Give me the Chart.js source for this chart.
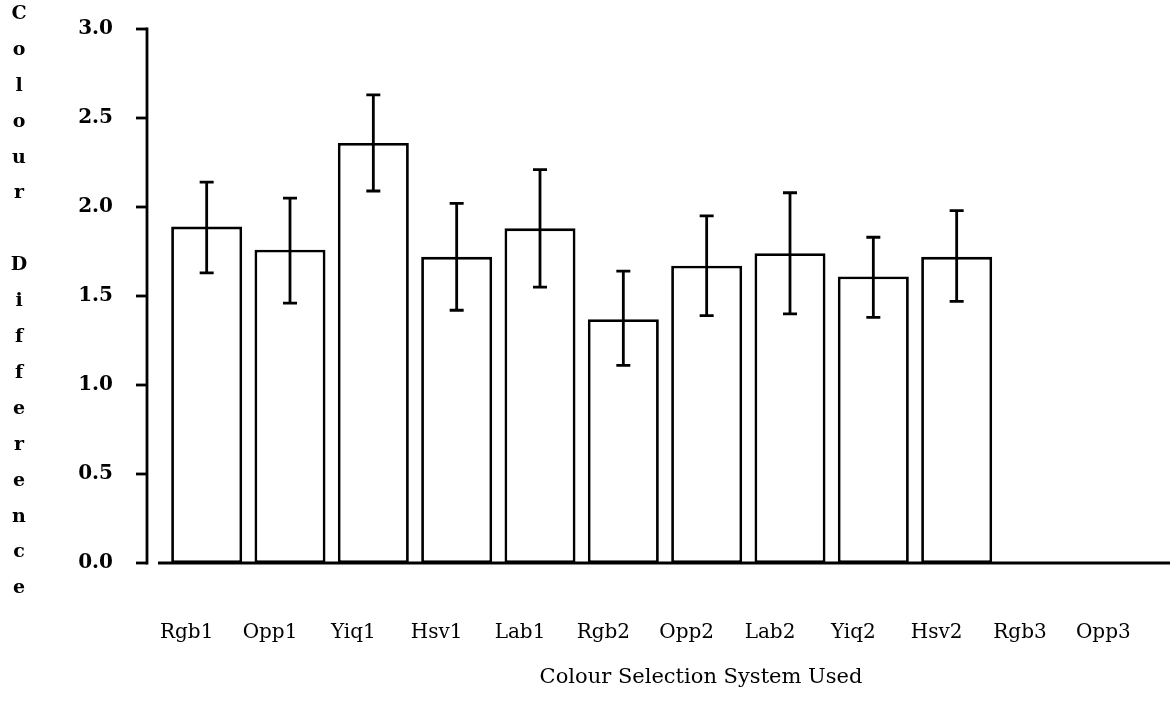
<!DOCTYPE html>
<html>
<head>
<meta charset="utf-8">
<title>Colour Difference by Colour Selection System</title>
<script src="https://cdn.jsdelivr.net/npm/chart.js@4.4.1/dist/chart.umd.min.js"></script>
<style>
  html, body { margin: 0; padding: 0; background: #ffffff; }
  #wrap { width: 1174px; height: 712px; }
</style>
</head>
<body>
<div id="wrap"><canvas id="chart" width="1174" height="712"></canvas></div>
<script>
// Colour selection systems along the x axis
const categories = ['Rgb1', 'Opp1', 'Yiq1', 'Hsv1', 'Lab1', 'Rgb2', 'Opp2', 'Lab2', 'Yiq2', 'Hsv2', 'Rgb3', 'Opp3'];
// Mean colour difference per system (Rgb3 and Opp3 have no data)
const meanDiff = [1.89, 1.76, 2.36, 1.72, 1.88, 1.37, 1.67, 1.74, 1.61, 1.72, null, null];
// Error bar ends
const errLow  = [1.63, 1.46, 2.09, 1.42, 1.55, 1.11, 1.39, 1.40, 1.38, 1.47, null, null];
const errHigh = [2.14, 2.05, 2.63, 2.02, 2.21, 1.64, 1.95, 2.08, 1.83, 1.98, null, null];
// Y axis tick values
const yTicks = [0.0, 0.5, 1.0, 1.5, 2.0, 2.5, 3.0];
const yTitle = 'Colour Difference';
const xTitle = 'Colour Selection System Used';

const INK = '#000000';
const LINE_W = 2.8;
const AXIS_GAP = 18;   // space between the y axis line and the first category

// Y axis line, tick marks and x baseline
const axesPlugin = {
  id: 'axes',
  afterDatasetsDraw(chart) {
    const { ctx, chartArea, scales: { y } } = chart;
    const ax = chartArea.left - AXIS_GAP;
    const y0 = y.getPixelForValue(yTicks[0]);
    const yTop = y.getPixelForValue(yTicks[yTicks.length - 1]);
    ctx.save();
    ctx.strokeStyle = INK;
    ctx.lineWidth = LINE_W;
    ctx.lineCap = 'butt';
    ctx.beginPath();
    ctx.moveTo(ax, yTop - LINE_W / 2);
    ctx.lineTo(ax, y0 + LINE_W / 2);
    ctx.stroke();
    yTicks.forEach(v => {
      const py = y.getPixelForValue(v);
      ctx.beginPath();
      ctx.moveTo(ax - 11, py);
      ctx.lineTo(ax, py);
      ctx.stroke();
    });
    ctx.beginPath();
    ctx.moveTo(chartArea.left - 7, y0);
    ctx.lineTo(chartArea.right + 5, y0);
    ctx.stroke();
    ctx.restore();
  }
};

// Error bars with caps
const errorBarPlugin = {
  id: 'errorBars',
  afterDatasetsDraw(chart) {
    const { ctx, scales: { x, y } } = chart;
    ctx.save();
    ctx.strokeStyle = INK;
    ctx.lineWidth = LINE_W;
    categories.forEach((c, i) => {
      if (errLow[i] == null || errHigh[i] == null) return;
      const px = x.getPixelForValue(i);
      const lo = y.getPixelForValue(errLow[i]);
      const hi = y.getPixelForValue(errHigh[i]);
      ctx.beginPath();
      ctx.moveTo(px, hi);
      ctx.lineTo(px, lo);
      ctx.moveTo(px - 7, hi);
      ctx.lineTo(px + 7, hi);
      ctx.moveTo(px - 7, lo);
      ctx.lineTo(px + 7, lo);
      ctx.stroke();
    });
    ctx.restore();
  }
};

// Stacked vertical y title and centred x title
const titlesPlugin = {
  id: 'titles',
  afterDraw(chart) {
    const { ctx, chartArea } = chart;
    ctx.save();
    ctx.fillStyle = INK;
    ctx.textAlign = 'center';
    ctx.textBaseline = 'middle';
    ctx.font = 'bold 19px "DejaVu Serif"';
    const letters = yTitle.split('');
    const step = 35.9;
    letters.forEach((ch, k) => {
      if (ch.trim() === '') return;
      ctx.fillText(ch, 19, 14 + k * step);
    });
    ctx.font = '21px "DejaVu Serif"';
    const cx = chartArea.left + (chartArea.right - chartArea.left) * 0.536;
    ctx.fillText(xTitle, cx, 678);
    ctx.restore();
  }
};

new Chart(document.getElementById('chart'), {
  type: 'bar',
  data: {
    labels: categories,
    datasets: [{
      data: meanDiff,
      backgroundColor: '#ffffff',
      borderColor: INK,
      borderWidth: LINE_W,
      borderSkipped: false,
      barPercentage: 0.852,
      categoryPercentage: 1.0
    }]
  },
  options: {
    responsive: false,
    animation: false,
    events: [],
    layout: { padding: { left: 0, right: 9, top: 29, bottom: 0 } },
    plugins: {
      legend: { display: false },
      tooltip: { enabled: false },
      title: { display: false }
    },
    scales: {
      x: {
        type: 'category',
        offset: true,
        grid: { display: false },
        border: { display: false },
        afterFit(scale) {
          scale.height = 712 - 563;
          scale.paddingLeft = 0;
          scale.paddingRight = 0;
        },
        ticks: {
          color: INK,
          font: { family: '"DejaVu Serif"', size: 20 },
          padding: 50,
          labelOffset: -20,
          maxRotation: 0,
          autoSkip: false
        }
      },
      y: {
        min: 0,
        max: 3,
        grid: { display: false },
        border: { display: false },
        afterFit(scale) {
          scale.width = 165;
          scale.paddingTop = 0;
          scale.paddingBottom = 0;
        },
        afterBuildTicks(scale) { scale.ticks = yTicks.map(v => ({ value: v })); },
        ticks: {
          color: INK,
          font: { family: '"DejaVu Serif"', size: 20, weight: 'bold' },
          padding: 44,
          callback: v => Number(v).toFixed(1)
        }
      }
    }
  },
  plugins: [axesPlugin, errorBarPlugin, titlesPlugin]
});
</script>
</body>
</html>
